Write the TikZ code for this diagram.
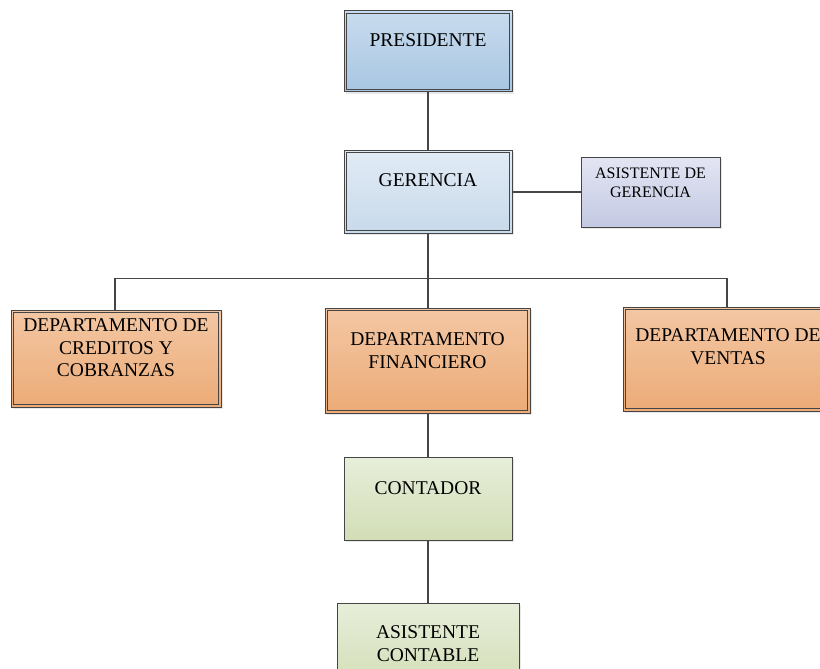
\documentclass[tikz,border=0pt]{standalone}
\usepackage{fontspec}
\setmainfont{Liberation Serif}
\usetikzlibrary{shadows}
\definecolor{edge}{HTML}{454545}
\definecolor{presT}{HTML}{C8DBEE}
\definecolor{presB}{HTML}{A8C6E2}
\definecolor{gerT}{HTML}{E1EBF5}
\definecolor{gerB}{HTML}{C8DAEB}
\definecolor{asgT}{HTML}{E3E5F3}
\definecolor{asgB}{HTML}{C4C9E3}
\definecolor{orT}{HTML}{F3C7A4}
\definecolor{orB}{HTML}{ECAB77}
\definecolor{grT}{HTML}{E7EEDA}
\definecolor{grB}{HTML}{D2DEB6}
\tikzset{
  x=1pt, y=-1pt,
  box/.style={draw=edge, line width=1pt, rectangle, inner sep=0pt,
    minimum width=#1, drop shadow={shadow xshift=2pt, shadow yshift=-2pt, opacity=0.18}},
  dbox/.style={box=#1, path picture={
      \draw[edge, line width=1pt]
        ([shift={(2.6pt,2.6pt)}]path picture bounding box.south west) rectangle
        ([shift={(-2.6pt,-2.6pt)}]path picture bounding box.north east);}},
  wire/.style={draw=edge, line width=1.5pt},
  lbl/.style={font=\fontsize{19.5}{22.5}\selectfont, align=center, anchor=north, inner sep=0pt},
  slbl/.style={font=\fontsize{16}{19}\selectfont, align=center, anchor=north, inner sep=0pt},
}
\begin{document}
\begin{tikzpicture}
\path[use as bounding box, clip] (0,0) rectangle (820,669);
\fill[white] (0,0) rectangle (820,669);
% boxes
\node[dbox=168pt, minimum height=81pt, top color=presT, bottom color=presB] (pres) at (428,51.5) {};
\node[dbox=168pt, minimum height=83pt, top color=gerT, bottom color=gerB] (ger) at (428,191.5) {};
\node[box=139pt, minimum height=70pt, top color=asgT, bottom color=asgB] (asg) at (650.5,192) {};
\node[dbox=210pt, minimum height=97pt, top color=orT, bottom color=orB] (cred) at (116,358.5) {};
\node[dbox=205pt, minimum height=105pt, top color=orT, bottom color=orB] (fin) at (427.5,360.5) {};
\node[dbox=210pt, minimum height=104pt, top color=orT, bottom color=orB] (ven) at (728,359) {};
\node[box=168pt, minimum height=83pt, top color=grT, bottom color=grB] (cont) at (428,498.5) {};
\node[box=182pt, minimum height=84pt, top color=grT, bottom color=grB] (asc) at (428,645) {};
% labels
\node[lbl] (presL) at ([yshift=-23pt]pres.north) {PRESIDENTE};
\node[lbl] (gerL) at ([yshift=-24pt]ger.north) {GERENCIA};
\node[slbl] (asgL) at ([yshift=-11pt]asg.north) {ASISTENTE DE\\GERENCIA};
\node[lbl] (credL) at ([yshift=-9pt]cred.north) {DEPARTAMENTO DE\\CREDITOS Y\\COBRANZAS};
\node[lbl] (finL) at ([yshift=-25pt]fin.north) {DEPARTAMENTO\\FINANCIERO};
\node[lbl] (venL) at ([yshift=-22pt]ven.north) {DEPARTAMENTO DE\\VENTAS};
\node[lbl] (contL) at ([yshift=-25pt]cont.north) {CONTADOR};
\node[lbl] (ascL) at ([yshift=-23pt]asc.north) {ASISTENTE\\CONTABLE};
% connectors
\draw[wire] (pres.south) -- (ger.north);
\draw[wire] (ger.east |- asg.west) -- (asg.west);
\draw[wire] (ger.south) -- (fin.north -| ger.south);
\draw[wire] (cred.north -| 115,0) -- (115,278.5) -- (727,278.5) -- (ven.north -| 727,0);
\draw[wire] (fin.south -| cont.north) -- (cont.north);
\draw[wire] (cont.south) -- (asc.north);
\end{tikzpicture}
\end{document}
